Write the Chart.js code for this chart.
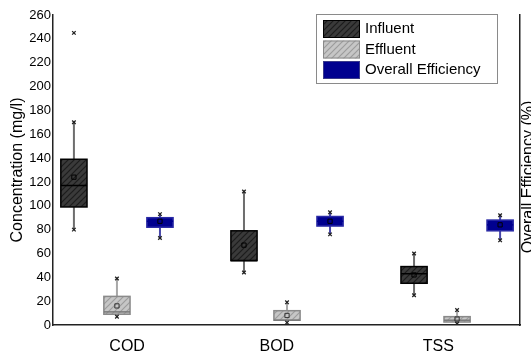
<!DOCTYPE html>
<html>
<head>
<meta charset="utf-8">
<script src="https://cdn.jsdelivr.net/npm/chart.js@4.4.1/dist/chart.umd.min.js"></script>
<style>
  html, body { margin: 0; padding: 0; background: #fff; }
  #wrap { width: 531px; height: 356px; }
</style>
</head>
<body>
<div id="wrap"><canvas id="myChart" width="531" height="356"></canvas></div>
<script>
const categories = ['COD', 'BOD', 'TSS'];
const seriesNames = ['Influent', 'Effluent', 'Overall Efficiency'];
const yTicks = [0, 20, 40, 60, 80, 100, 120, 140, 160, 180, 200, 220, 240, 260];

// [min, q1, median, q3, max] for each category
const influentBox = [[80, 99, 117, 139, 170], [44, 54, 54, 79, 112], [25, 35, 43, 49, 60]];
const influentMean = [124, 67, 42];
const influentOutliers = [[245], [], []];

const effluentBox = [[7, 9, 11, 24, 39], [2, 4, 4, 12, 19], [1, 2.5, 4, 7, 12.5]];
const effluentMean = [16, 8, 5];
const effluentOutliers = [[], [], []];

const efficiencyBox = [[73, 82, 87, 90, 93], [76, 83, 87, 91, 94.5], [71, 79, 84, 88, 92]];
const efficiencyMean = [87, 87, 84];
const efficiencyOutliers = [[], [], []];

const FONT = '"Liberation Sans", Arial, sans-serif';

function hatch(base, line) {
  const c = document.createElement('canvas');
  c.width = 6; c.height = 6;
  const g = c.getContext('2d');
  g.fillStyle = base;
  g.fillRect(0, 0, 6, 6);
  g.strokeStyle = line;
  g.lineWidth = 1.2;
  g.beginPath();
  g.moveTo(0, 6); g.lineTo(6, 0);
  g.moveTo(-3, 3); g.lineTo(3, -3);
  g.moveTo(3, 9); g.lineTo(9, 3);
  g.stroke();
  return g.createPattern(c, 'repeat');
}

const groupOffset = [-0.253, 0, 0.253];
const boxHalf = 0.077;

const series = [
  { box: influentBox, mean: influentMean, out: influentOutliers,
    fill: hatch('#3a3a3a', '#1c1c1c'), border: '#000', whisker: '#6e6e6e', median: '#000', meanBorder: '#000' },
  { box: effluentBox, mean: effluentMean, out: effluentOutliers,
    fill: hatch('#c6c6c6', '#9c9c9c'), border: '#8a8a8a', whisker: '#a8a8a8', median: '#7a7a7a', meanBorder: '#333' },
  { box: efficiencyBox, mean: efficiencyMean, out: efficiencyOutliers,
    fill: '#00008f', border: '#2a2aa6', whisker: '#4646a8', median: '#00008f', meanBorder: '#000' }
];

const datasets = [];
series.forEach((s, si) => {
  datasets.push({
    label: seriesNames[si] + ' mean',
    data: s.mean.map((v, i) => ({ x: i + 1 + groupOffset[si], y: v })),
    pointStyle: 'rect',
    pointRadius: 3,
    backgroundColor: 'rgba(0,0,0,0)',
    borderColor: s.meanBorder,
    borderWidth: 1
  });
  const ends = [];
  s.box.forEach((b, i) => {
    ends.push({ x: i + 1 + groupOffset[si], y: b[0] });
    ends.push({ x: i + 1 + groupOffset[si], y: b[4] });
    s.out[i].forEach(v => ends.push({ x: i + 1 + groupOffset[si], y: v }));
  });
  datasets.push({
    label: seriesNames[si] + ' range',
    data: ends,
    pointStyle: 'crossRot',
    pointRadius: 2.5,
    borderColor: '#222',
    borderWidth: 1.3
  });
});

const boxPlugin = {
  id: 'boxes',
  beforeDatasetsDraw(chart) {
    const { ctx, scales: { x, y } } = chart;
    ctx.save();
    series.forEach((s, si) => {
      s.box.forEach((b, ci) => {
        const cx = ci + 1 + groupOffset[si];
        const px = x.getPixelForValue(cx);
        const half = x.getPixelForValue(cx + boxHalf) - px;
        const [mn, q1, md, q3, mx] = b.map(v => y.getPixelForValue(v));
        ctx.strokeStyle = s.whisker;
        ctx.lineWidth = 2;
        ctx.beginPath();
        ctx.moveTo(px, mx); ctx.lineTo(px, q3);
        ctx.moveTo(px, q1); ctx.lineTo(px, mn);
        ctx.stroke();
        ctx.fillStyle = s.fill;
        ctx.fillRect(px - half, q3, half * 2, q1 - q3);
        ctx.strokeStyle = s.border;
        ctx.lineWidth = 1.5;
        ctx.strokeRect(px - half, q3, half * 2, q1 - q3);
        ctx.strokeStyle = s.median;
        ctx.beginPath();
        ctx.moveTo(px - half, md); ctx.lineTo(px + half, md);
        ctx.stroke();
      });
    });
    ctx.restore();
  },
  afterDraw(chart) {
    const { ctx, chartArea } = chart;
    ctx.save();
    // legend
    const lx = chartArea.right - 204, ly = chartArea.top - 1;
    ctx.fillStyle = '#fff';
    ctx.fillRect(lx, ly, 181, 69);
    ctx.strokeStyle = '#8a8a8a';
    ctx.lineWidth = 1;
    ctx.strokeRect(lx + 0.5, ly + 0.5, 181, 69);
    ctx.font = '15px ' + FONT;
    ctx.textBaseline = 'middle';
    series.forEach((s, si) => {
      const sy = ly + 6 + si * 20.5;
      ctx.fillStyle = s.fill;
      ctx.fillRect(lx + 7, sy, 37, 18);
      ctx.strokeStyle = si === 2 ? '#3a3a8a' : s.border;
      ctx.strokeRect(lx + 7.5, sy + 0.5, 36, 17);
      ctx.fillStyle = '#000';
      ctx.fillText(seriesNames[si], lx + 49, sy + 9);
    });
    // right axis title (reads bottom to top)
    ctx.translate(chartArea.right + 9, 177);
    ctx.rotate(-Math.PI / 2);
    ctx.textAlign = 'center';
    ctx.font = '16px ' + FONT;
    ctx.fillText('Overall Efficiency (%)', 0, 0);
    ctx.restore();
  }
};

const config = {
  type: 'scatter',
  data: { datasets },
  plugins: [boxPlugin],
  options: {
    responsive: false,
    animation: false,
    events: [],
    layout: { padding: { top: 15, left: 0, right: 0, bottom: 0 } },
    plugins: { legend: { display: false }, tooltip: { enabled: false } },
    scales: {
      x: {
        type: 'linear',
        min: 0.624,
        max: 3.37,
        grid: { display: false, drawTicks: false },
        border: { color: '#222', width: 1.5 },
        afterBuildTicks: s => { s.ticks = [{ value: 1.06 }, { value: 1.94 }, { value: 2.89 }]; },
        afterFit: s => { s.height = 31; },
        ticks: {
          padding: 12,
          color: '#000',
          font: { family: FONT, size: 16 },
          callback: (v, i) => categories[i]
        }
      },
      y: {
        min: 0,
        max: 260,
        grid: { display: false, drawTicks: false },
        border: { color: '#222', width: 1.5 },
        afterBuildTicks: s => { s.ticks = yTicks.map(v => ({ value: v })); },
        afterFit: s => { s.width = 53; },
        ticks: { padding: 2, color: '#000', font: { family: FONT, size: 13 } },
        title: {
          display: true,
          text: 'Concentration (mg/l)',
          color: '#000',
          font: { family: FONT, size: 16 },
          padding: { top: 8, bottom: 0 }
        }
      },
      y2: {
        position: 'right',
        display: true,
        min: 0,
        max: 260,
        grid: { display: false, drawTicks: false },
        border: { color: '#222', width: 1.5 },
        ticks: { display: false },
        afterFit: s => { s.width = 11; }
      }
    }
  }
};

const myChart = new Chart(document.getElementById('myChart'), config);
</script>
</body>
</html>
